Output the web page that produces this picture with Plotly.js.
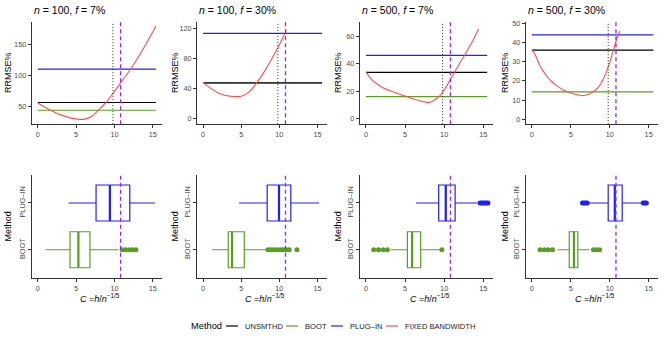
<!DOCTYPE html>
<html>
<head>
<meta charset="utf-8">
<script src="https://cdn.plot.ly/plotly-3.0.1.min.js"></script>
<style>
  html, body { margin: 0; padding: 0; background: #fff; }
  #chart { width: 664px; height: 343px; }
</style>
</head>
<body>
<div id="chart"></div>
<script>
// --- panel labels ---
const panelN = [100, 100, 500, 500];
const panelF = [7, 30, 7, 30];

// --- top row: flat RRMSE% levels per method ---
const unsmthdLvl = [56, 47.5, 33.7, 36];
const bootLvl = [43.5, 46.8, 16.1, 14.2];
const plugLvl = [110, 113.3, 46, 44];
const lvlEnd = [15.4, 15.6, 15.5, 15.6];
const yRanges = [[21, 186], [-7.6, 128.4], [-3.9, 70.2], [-2.6, 50.7]];
const yTicks = [[50, 100, 150], [0, 40, 80, 120], [0, 20, 40, 60], [0, 10, 20, 30, 40, 50]];

// --- fixed bandwidth curves (C, RRMSE%) ---
const fixC1 = [0, 1, 2, 3, 4, 5, 6, 7, 8, 9, 10, 11, 12, 13, 14, 15, 15.4];
const fixR1 = [55, 48, 41.5, 36, 32, 29.5, 28.8, 33.5, 45, 57.5, 74, 91, 108, 127, 148, 170, 180];
const fixC2 = [0, 1, 2, 3, 4, 5, 6, 7, 8, 9, 10, 10.9];
const fixR2 = [48, 40, 34, 30.5, 29.2, 29.5, 35, 47, 62, 79, 98, 117];
const fixC3 = [0, 0.5, 1, 1.5, 2, 3, 4, 5, 6, 7, 7.5, 8, 8.5, 9, 9.5, 10, 10.5, 11, 11.5, 12, 12.5, 13, 13.5, 14, 14.4];
const fixR3 = [34, 30, 27, 25, 23, 20.5, 18.5, 16.5, 14.5, 13, 12.2, 11.8, 12.8, 14.5, 17, 21, 25.5, 30.5, 35.5, 40.5, 45, 50, 55, 60.5, 65];
const fixC4 = [0, 0.3, 0.6, 1, 1.5, 2, 2.5, 3, 3.5, 4, 5, 6, 6.5, 7, 7.5, 8, 8.5, 9, 9.5, 10, 10.5, 11, 11.3];
const fixR4 = [36, 34.5, 32, 28, 24.8, 22, 19.8, 18, 16.6, 15.4, 13.6, 12.6, 12.3, 12.6, 13.4, 14.6, 16.5, 19.5, 24, 29.5, 36.5, 43, 46];
const fixC = [fixC1, fixC2, fixC3, fixC4];
const fixR = [fixR1, fixR2, fixR3, fixR4];

const dottedC = 9.8;   // dotted reference
const optC = 10.8;     // dashed purple reference

// --- bottom row: boxplot stats of selected C ---
const plugLo = [4.0, 4.7, 6.4, 7.2];
const plugQ1 = [7.6, 8.4, 9.3, 9.8];
const plugMed = [9.4, 9.95, 10.2, 10.65];
const plugQ3 = [12.0, 11.5, 11.4, 11.6];
const plugHi = [15.3, 15.2, 14.3, 14.2];
const plugOut = [[], [], [14.6, 14.8, 15.0, 15.2, 15.4, 15.6], [6.5, 6.7, 6.9, 7.1, 14.3, 14.5, 14.7]];

const bootLo = [1.0, 1.2, 3.2, 3.3];
const bootQ1 = [4.2, 3.3, 5.3, 4.8];
const bootMed = [5.3, 3.8, 5.9, 5.4];
const bootQ3 = [6.8, 5.4, 7.0, 5.9];
const bootHi = [10.5, 8.3, 9.4, 7.4];
const bootOut = [[11.0, 11.45, 11.9, 12.35, 12.8], [8.5, 8.9, 9.3, 9.7, 10.1, 10.5, 10.9, 11.3, 12.3],
                 [1.0, 1.6, 2.2, 2.75, 9.7], [1.05, 1.6, 2.1, 2.65, 7.9, 8.3, 8.7]];

const methodCats = ['BOOT', 'PLUG–IN'];
const boxW = 0.77;

// legend entries
const legNames = ['UNSMTHD', 'BOOT', 'PLUG–IN', 'FIXED BANDWIDTH'];
const legColors = ['#000000', '#56a01e', '#2020f8', '#ff4d4d'];
const legKeyX = [226, 286, 331, 386];   // px, left of key line

const COL = { unsm: '#000000', boot: '#56a01e', plug: '#2020f8', fixed: '#ff4d4d', opt: '#a020f0' };
const FONT = 'Liberation Sans, Arial, sans-serif';
const W = 664, H = 343;

const xDom = [[0.048, 0.244], [0.297, 0.492], [0.542, 0.742], [0.792, 0.991]];
const topDom = [0.638, 0.936];
const botDom = [0.19, 0.49];
const yTitleX = [8, 175, 338, 505];

const traces = [];
const shapes = [];
const annotations = [];
const layout = {
    width: W, height: H,
    margin: { l: 0, r: 0, t: 0, b: 0 },
    paper_bgcolor: '#fff', plot_bgcolor: '#fff',
    font: { family: FONT, size: 7.5, color: '#4d4d4d' },
    showlegend: false
};

const axBase = {
    showgrid: false, zeroline: false, showline: true, linecolor: '#333', linewidth: 1.1,
    ticks: 'outside', ticklen: 3, tickcolor: '#333', tickwidth: 1,
    tickfont: { size: 7.3, color: '#4d4d4d' }, fixedrange: true
};

for (let i = 0; i < 4; i++) {
    const top = i + 1, bot = i + 5;
    const xt = 'x' + (top === 1 ? '' : top), yt = 'y' + (top === 1 ? '' : top);
    const xb = 'x' + bot, yb = 'y' + bot;

    // axes
    layout['xaxis' + (top === 1 ? '' : top)] = { ...axBase, domain: xDom[i], anchor: yt, range: [-0.77, 16.2], tickvals: [0, 5, 10, 15] };
    layout['yaxis' + (top === 1 ? '' : top)] = { ...axBase, domain: topDom, anchor: xt, range: yRanges[i], tickvals: yTicks[i] };
    layout['xaxis' + bot] = { ...axBase, domain: xDom[i], anchor: yb, range: [-0.77, 16.2], tickvals: [0, 5, 10, 15] };
    layout['yaxis' + bot] = { ...axBase, domain: botDom, anchor: xb, range: [0.4, 2.6], tickvals: [1, 2],
                              ticktext: methodCats, tickangle: -90 };

    // top row lines
    traces.push({ x: [0, lvlEnd[i]], y: [bootLvl[i], bootLvl[i]], xaxis: xt, yaxis: yt, mode: 'lines',
                  line: { color: COL.boot, width: 1.2 }, name: 'BOOT' });
    traces.push({ x: [0, lvlEnd[i]], y: [plugLvl[i], plugLvl[i]], xaxis: xt, yaxis: yt, mode: 'lines',
                  line: { color: COL.plug, width: 1.2 }, name: 'PLUG–IN' });
    traces.push({ x: [0, lvlEnd[i]], y: [unsmthdLvl[i], unsmthdLvl[i]], xaxis: xt, yaxis: yt, mode: 'lines',
                  line: { color: COL.unsm, width: 1.2 }, name: 'UNSMTHD' });
    traces.push({ x: fixC[i], y: fixR[i], xaxis: xt, yaxis: yt, mode: 'lines',
                  line: { color: COL.fixed, width: 1.1, shape: 'spline', smoothing: 0.8 }, name: 'FIXED BANDWIDTH' });

    // bottom row boxplots
    traces.push({ type: 'box', orientation: 'h', xaxis: xb, yaxis: yb, y: [2],
                  q1: [plugQ1[i]], median: [plugMed[i]], q3: [plugQ3[i]], lowerfence: [plugLo[i]], upperfence: [plugHi[i]],
                  width: boxW, whiskerwidth: 0, boxpoints: false, fillcolor: 'rgba(255,255,255,0)',
                  line: { color: COL.plug, width: 1.2 }, hoverinfo: 'skip' });
    traces.push({ type: 'box', orientation: 'h', xaxis: xb, yaxis: yb, y: [1],
                  q1: [bootQ1[i]], median: [bootMed[i]], q3: [bootQ3[i]], lowerfence: [bootLo[i]], upperfence: [bootHi[i]],
                  width: boxW, whiskerwidth: 0, boxpoints: false, fillcolor: 'rgba(255,255,255,0)',
                  line: { color: COL.boot, width: 1.2 }, hoverinfo: 'skip' });
    // thicker medians
    traces.push({ x: [plugMed[i], plugMed[i]], y: [2 - boxW / 2, 2 + boxW / 2], xaxis: xb, yaxis: yb, mode: 'lines',
                  line: { color: COL.plug, width: 2.2 }, hoverinfo: 'skip' });
    traces.push({ x: [bootMed[i], bootMed[i]], y: [1 - boxW / 2, 1 + boxW / 2], xaxis: xb, yaxis: yb, mode: 'lines',
                  line: { color: COL.boot, width: 2.2 }, hoverinfo: 'skip' });
    // outliers
    traces.push({ x: plugOut[i], y: plugOut[i].map(() => 2), xaxis: xb, yaxis: yb, mode: 'markers',
                  marker: { color: COL.plug, size: 5 }, hoverinfo: 'skip' });
    traces.push({ x: bootOut[i], y: bootOut[i].map(() => 1), xaxis: xb, yaxis: yb, mode: 'markers',
                  marker: { color: COL.boot, size: 5 }, hoverinfo: 'skip' });

    // reference lines
    shapes.push({ type: 'line', xref: xt, yref: yt + ' domain', x0: dottedC, x1: dottedC, y0: 0, y1: 1,
                  line: { color: '#222', width: 1, dash: '1px,2px' } });
    shapes.push({ type: 'line', xref: xt, yref: yt + ' domain', x0: optC, x1: optC, y0: 0, y1: 1,
                  line: { color: COL.opt, width: 1.3, dash: '4px,3px' } });
    shapes.push({ type: 'line', xref: xb, yref: yb + ' domain', x0: optC, x1: optC, y0: 0, y1: 1,
                  line: { color: COL.opt, width: 1.3, dash: '4px,3px' } });

    // panel title
    annotations.push({ xref: 'paper', yref: 'paper', x: xDom[i][0], y: 1 - 10 / H, xanchor: 'left', yanchor: 'middle',
                       text: '<i>n</i> = ' + panelN[i] + ', <i>f</i> = ' + panelF[i] + '%', showarrow: false,
                       font: { size: 10.5, color: '#000' } });
    // y titles
    annotations.push({ xref: 'paper', yref: 'paper', x: yTitleX[i] / W, y: (topDom[0] + topDom[1]) / 2,
                       xanchor: 'center', yanchor: 'middle', textangle: -90, text: 'RRMSE%', showarrow: false,
                       font: { size: 9, color: '#000' } });
    annotations.push({ xref: 'paper', yref: 'paper', x: yTitleX[i] / W, y: (botDom[0] + botDom[1]) / 2,
                       xanchor: 'center', yanchor: 'middle', textangle: -90, text: 'Method', showarrow: false,
                       font: { size: 9, color: '#000' } });
    // x title
    annotations.push({ xref: 'paper', yref: 'paper', x: (xDom[i][0] + xDom[i][1]) / 2 + 0.005, y: 1 - 298 / H,
                       xanchor: 'center', yanchor: 'middle',
                       text: '<i>C</i> =<i>h</i>/<i>n</i><sup>−1/5</sup>', showarrow: false,
                       font: { size: 9, color: '#000' } });
}

// --- legend (drawn by hand to keep ggplot's compact keys) ---
const legY = 1 - 326 / H;
annotations.push({ xref: 'paper', yref: 'paper', x: 189 / W, y: legY, xanchor: 'left', yanchor: 'middle',
                   text: 'Method', showarrow: false, font: { size: 9.3, color: '#000' } });
legNames.forEach((name, k) => {
    shapes.push({ type: 'line', xref: 'paper', yref: 'paper', x0: legKeyX[k] / W, x1: (legKeyX[k] + 12) / W,
                  y0: legY, y1: legY, line: { color: legColors[k], width: 1.2 } });
    annotations.push({ xref: 'paper', yref: 'paper', x: (legKeyX[k] + 17) / W, y: legY, xanchor: 'left', yanchor: 'middle',
                       text: name, showarrow: false, font: { size: 7.6, color: '#222' } });
});

layout.shapes = shapes;
layout.annotations = annotations;

Plotly.newPlot('chart', traces, layout, { staticPlot: true, displayModeBar: false });
</script>
</body>
</html>
